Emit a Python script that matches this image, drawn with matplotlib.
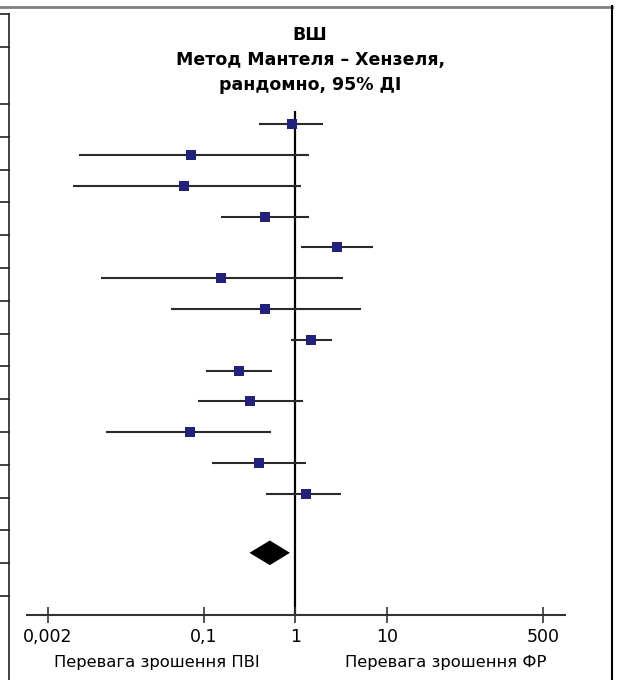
import matplotlib.pyplot as plt
from matplotlib.lines import Line2D

# odds ratios with 95% CI, one per study (top to bottom)
odds_ratio = [0.918, 0.0731, 0.0617, 0.466, 2.83, 0.156, 0.466,
              1.48, 0.243, 0.320, 0.0716, 0.402, 1.30]
ci_low = [0.398, 0.00444, 0.00373, 0.156, 1.16, 0.0077, 0.0438,
          0.902, 0.106, 0.0863, 0.0086, 0.123, 0.484]
ci_high = [1.98, 1.40, 1.15, 1.42, 7.00, 3.34, 5.21,
           2.53, 0.562, 1.21, 0.545, 1.31, 3.12]

# pooled estimate (random effects)
pooled = 0.527
pooled_low = 0.316
pooled_high = 0.873

tick_values = [0.002, 0.1, 1, 10, 500]
tick_labels = ["0,002", "0,1", "1", "10", "500"]

title_lines = ["ВШ", "Метод Мантеля – Хензеля,", "рандомно, 95% ДІ"]
left_label = "Перевага зрошення ПВІ"
right_label = "Перевага зрошення ФР"

W, H = 618, 680
fig = plt.figure(figsize=(W / 100, H / 100), dpi=100)

# axes placed in pixel terms
x0, x1 = 27, 564.5
y_top, y_bot = 111, 615
ax = fig.add_axes([x0 / W, 1 - y_bot / H, (x1 - x0) / W, (y_bot - y_top) / H])
ax.set_xscale("log")
ax.set_xlim(0.00119, 857)
ax.set_ylim(15.94, -0.43)

rows = list(range(len(odds_ratio)))
ax.hlines(rows, ci_low, ci_high, color="#2a2a2a", lw=1.5, zorder=2)
ax.scatter(odds_ratio, rows, marker="s", s=62, color="#22227a",
           linewidths=0, zorder=3)

# pooled diamond
d = len(odds_ratio) + 0.92
h = 0.4
ax.fill([pooled_low, pooled, pooled_high, pooled],
        [d, d - h, d, d + h], color="black", lw=0, zorder=3)

ax.axvline(1, color="black", lw=1.6, zorder=1)

for side in ["top", "left", "right"]:
    ax.spines[side].set_visible(False)
ax.spines["bottom"].set_color("#333333")
ax.spines["bottom"].set_linewidth(1.5)
ax.set_yticks([])
ax.set_xticks(tick_values)
ax.set_xticklabels(tick_labels)
ax.minorticks_off()
ax.tick_params(axis="x", direction="inout", length=11.5, width=1.2,
               color="#333333", labelsize=12.5, pad=3.5)
ax.patch.set_alpha(0)

# title
for i, line in enumerate(title_lines):
    fig.text(310 / W, 1 - (35 + 25 * i) / H, line, ha="center", va="center",
             fontsize=12.5, fontweight="bold")

fig.text(157 / W, 1 - 662 / H, left_label, ha="center", va="center", fontsize=11.8)
fig.text(446 / W, 1 - 662 / H, right_label, ha="center", va="center", fontsize=11.8)

# frame and the cut-off table edge on the left
def px_line(xs, ys, **kw):
    fig.add_artist(Line2D([x / W for x in xs], [1 - y / H for y in ys],
                          transform=fig.transFigure, **kw))

px_line([0, 612], [6.5, 6.5], color="#808080", lw=2)
px_line([611.5, 611.5], [6, 680], color="black", lw=1.5)
px_line([9.3, 9.3], [14, 680], color="#222222", lw=1.2)
stubs = [14.3, 46.7] + [104 + 32.8 * k for k in range(16)]
for y in stubs:
    px_line([0, 9.3], [y, y], color="#222222", lw=1.2)

fig.savefig("out.png", dpi=100)
